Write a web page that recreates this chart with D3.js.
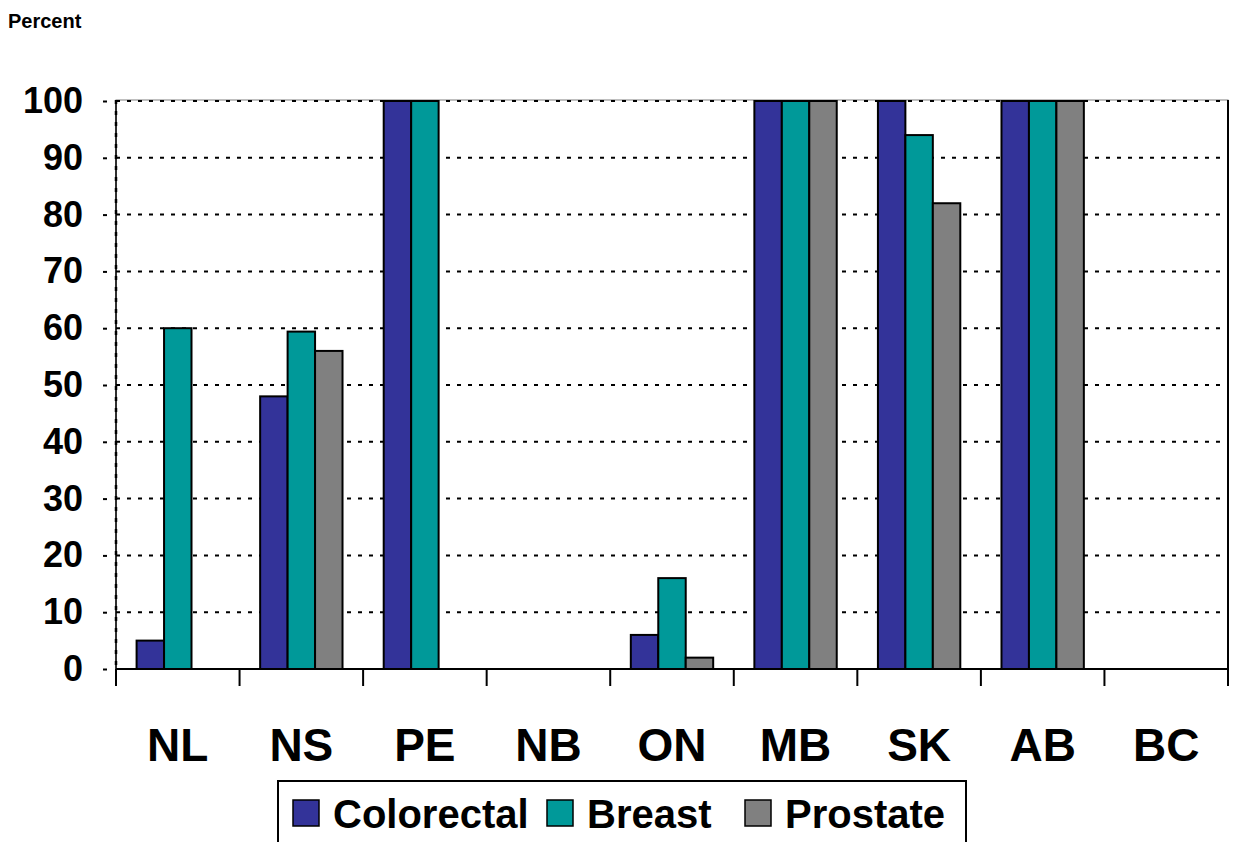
<!DOCTYPE html>
<html>
<head>
<meta charset="utf-8">
<script src="https://cdn.jsdelivr.net/npm/d3@7"></script>
<style>
  html, body { margin: 0; padding: 0; background: #fff; }
  svg { display: block; font-family: "Liberation Sans", Arial, Helvetica, sans-serif; font-weight: bold; }
</style>
</head>
<body>
<svg id="chart" width="1236" height="842"></svg>
<script>
const categories = ["NL", "NS", "PE", "NB", "ON", "MB", "SK", "AB", "BC"];
const seriesNames = ["Colorectal", "Breast", "Prostate"];
const colorectal = [5, 48, 100, 0, 6, 100, 100, 100, 0];
const breast = [60, 59.4, 100, 0, 16, 100, 94, 100, 0];
const prostate = [0, 56, 0, 0, 2, 100, 82, 100, 0];
const yTicks = [0, 10, 20, 30, 40, 50, 60, 70, 80, 90, 100];
const colors = ["#333399", "#009999", "#808080"];

const seriesValues = [colorectal, breast, prostate];

(function () {
const svg = d3.select("#chart");
const pLeft = 116, pRight = 1228, pTop = 101, pBottom = 669;

const x0 = d3.scaleBand().domain(categories).range([pLeft, pRight]).paddingInner(0).paddingOuter(0);
const x1 = d3.scaleBand().domain(seriesNames).range([0, x0.bandwidth()]).paddingInner(0).paddingOuter(0.75);
const y = d3.scaleLinear().domain([0, 100]).range([pBottom, pTop]);
const color = d3.scaleOrdinal().domain(seriesNames).range(colors);

// "Percent" title
svg.append("text").attr("x", 8).attr("y", 28).attr("font-size", 20).attr("fill", "#000").text("Percent");

// plot area border
svg.append("rect").attr("x", pLeft).attr("y", pTop - 1).attr("width", pRight - pLeft).attr("height", pBottom - pTop + 1)
  .attr("fill", "none").attr("stroke", "#808080").attr("stroke-width", 1);

// gridlines
svg.append("g").selectAll("line").data(yTicks.filter(d => d > 0)).join("line")
  .attr("x1", pLeft).attr("x2", pRight).attr("y1", d => y(d)).attr("y2", d => y(d))
  .attr("stroke", "#000").attr("stroke-width", 2).attr("stroke-dasharray", "4,7");

// right border
svg.append("line").attr("x1", pRight).attr("x2", pRight).attr("y1", pTop - 1).attr("y2", pBottom)
  .attr("stroke", "#000").attr("stroke-width", 2);

// bars
const rows = categories.map((c, i) => ({ cat: c, vals: seriesNames.map((s, j) => ({ s, v: seriesValues[j][i] })) }));
svg.append("g").selectAll("g").data(rows).join("g")
  .attr("transform", d => `translate(${x0(d.cat)},0)`)
  .selectAll("rect").data(d => d.vals.filter(e => e.v > 0)).join("rect")
  .attr("x", d => x1(d.s)).attr("width", x1.bandwidth())
  .attr("y", d => y(d.v)).attr("height", d => y(0) - y(d.v))
  .attr("fill", d => color(d.s)).attr("stroke", "#000").attr("stroke-width", 2);

// y axis
const yAxis = d3.axisLeft(y).tickValues(yTicks).tickSize(0).tickPadding(33);
const gy = svg.append("g").attr("transform", `translate(${pLeft},0)`).call(yAxis);
gy.select(".domain").remove();
gy.selectAll("text").attr("font-size", 36).attr("font-weight", "bold").attr("font-family", "Liberation Sans, Arial, sans-serif").attr("fill", "#000");
gy.selectAll(".tick").append("line").attr("x1", -13).attr("x2", -9).attr("y1", 0).attr("y2", 0)
  .attr("stroke", "#000").attr("stroke-width", 2);
svg.append("line").attr("x1", pLeft).attr("x2", pLeft).attr("y1", pTop - 1).attr("y2", pBottom)
  .attr("stroke", "#000").attr("stroke-width", 1.5);
svg.append("line").attr("x1", pLeft).attr("x2", pLeft).attr("y1", pTop - 1).attr("y2", pBottom)
  .attr("stroke", "#000").attr("stroke-width", 2.5).attr("stroke-dasharray", "4,7");

// x axis
svg.append("line").attr("x1", pLeft).attr("x2", pRight).attr("y1", pBottom).attr("y2", pBottom)
  .attr("stroke", "#000").attr("stroke-width", 2.2);
const tickPos = categories.map(c => x0(c)).concat([x0.range()[1]]);
svg.append("g").selectAll("line").data(tickPos).join("line")
  .attr("x1", d => d).attr("x2", d => d).attr("y1", pBottom).attr("y2", pBottom + 17)
  .attr("stroke", "#000").attr("stroke-width", 2);
svg.append("g").selectAll("text").data(categories).join("text")
  .attr("x", d => x0(d) + x0.bandwidth() / 2).attr("y", 761)
  .attr("text-anchor", "middle").attr("font-size", 46).attr("fill", "#000").text(d => d);

// legend
const legendLeft = 278, legendTop = 781;
svg.append("rect").attr("x", legendLeft).attr("y", legendTop).attr("width", 688).attr("height", 80)
  .attr("fill", "#fff").attr("stroke", "#000").attr("stroke-width", 2);
const legendOffsets = [15, 269, 467];
const lg = svg.append("g").selectAll("g").data(seriesNames).join("g")
  .attr("transform", (d, i) => `translate(${legendLeft + legendOffsets[i]},${legendTop + 19})`);
lg.append("rect").attr("width", 26).attr("height", 26).attr("fill", d => color(d))
  .attr("stroke", "#000").attr("stroke-width", 1.5);
lg.append("text").attr("x", 40).attr("y", 28).attr("font-size", 40).attr("fill", "#000").text(d => d);
})();
</script>
</body>
</html>
